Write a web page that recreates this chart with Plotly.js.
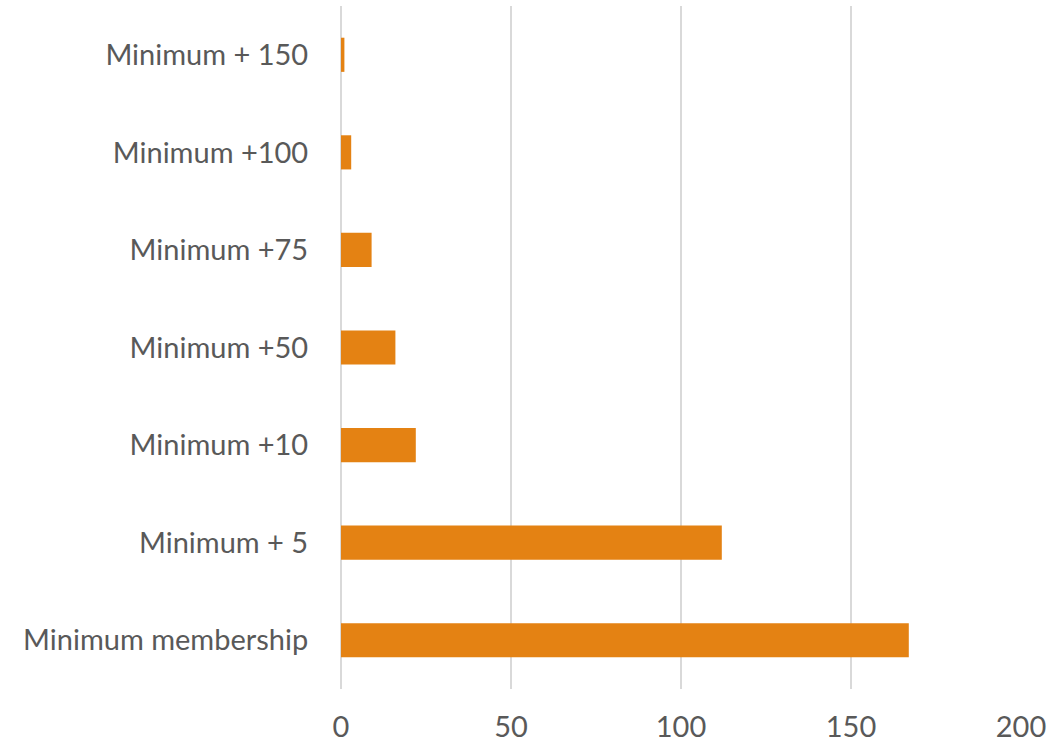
<!DOCTYPE html>
<html>
<head>
<meta charset="utf-8">
<script src="https://cdn.plot.ly/plotly-3.0.1.min.js"></script>
<style>html,body{margin:0;padding:0;background:#fff;}#chart{width:1051px;height:745px;}</style>
</head>
<body>
<div id="chart"></div>
<script>
const categories = ["Minimum membership", "Minimum + 5", "Minimum +10", "Minimum +50", "Minimum +75", "Minimum +100", "Minimum + 150"];
const values = [167, 112, 22, 16, 9, 3, 1];
const xTicks = [0, 50, 100, 150, 200];

const trace = {
  type: 'bar',
  orientation: 'h',
  y: categories,
  x: values,
  width: 0.35,
  marker: {color: '#E48213', line: {width: 0}},
  hoverinfo: 'x+y'
};

const layout = {
  width: 1051, height: 745,
  margin: {l: 341, r: 30, t: 6, b: 56},
  paper_bgcolor: '#fff', plot_bgcolor: '#fff',
  showlegend: false,
  font: {family: 'Lato, "Open Sans", sans-serif', size: 29, color: '#595959'},
  xaxis: {
    range: [0, 200], tickvals: xTicks, ticktext: xTicks.map(String),
    showgrid: true, gridcolor: '#d9d9d9', gridwidth: 2,
    zeroline: true, zerolinecolor: '#d9d9d9', zerolinewidth: 2,
    showline: false, ticks: 'outside', ticklen: 12, tickcolor: 'rgba(0,0,0,0)',
    tickfont: {size: 29, color: '#595959'}, fixedrange: true
  },
  yaxis: {
    type: 'category', categoryorder: 'array', categoryarray: categories,
    showgrid: false, zeroline: false, showline: false,
    ticks: 'outside', ticklen: 26, tickcolor: 'rgba(0,0,0,0)',
    tickfont: {size: 29, color: '#595959'}, fixedrange: true
  },
  bargap: 0.65
};

Plotly.newPlot('chart', [trace], layout, {displayModeBar: false, staticPlot: true});
</script>
</body>
</html>
